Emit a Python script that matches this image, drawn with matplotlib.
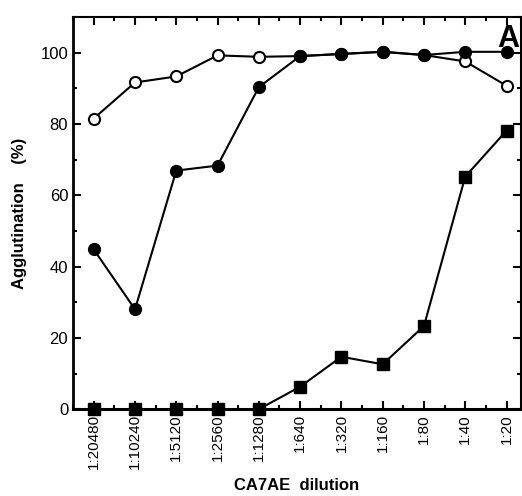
import numpy as np
import matplotlib.pyplot as plt
from matplotlib.ticker import MultipleLocator

plt.rcParams['font.family'] = ['Liberation Sans', 'DejaVu Sans']

dilutions = ['1:20480', '1:10240', '1:5120', '1:2560', '1:1280', '1:640',
             '1:320', '1:160', '1:80', '1:40', '1:20']
open_circ = [81.5, 91.6, 93.3, 99.2, 98.8, 99.0, 99.6, 100.2, 99.3, 97.5, 90.7]
filled_circ = [44.8, 28.0, 66.9, 68.3, 90.3, 99.0, 99.6, 100.2, 99.3, 100.2, 100.2]
squares = [0, 0, 0, 0, 0, 6.3, 14.7, 12.6, 23.3, 65.2, 78.1]

x = np.arange(len(dilutions))

fig = plt.figure(figsize=(5.22, 4.96), dpi=100)
ax = fig.add_axes([0.140, 0.175, 0.858, 0.791])

ax.plot(x, open_circ, 'o-', color='black', mfc='white', mec='black', mew=1.5,
        ms=8, lw=1.5, clip_on=False, zorder=3)
ax.plot(x, filled_circ, 'o-', color='black', ms=8.5, lw=1.5, clip_on=False, zorder=4)
ax.plot(x, squares, 's-', color='black', ms=8, lw=1.5, clip_on=False, zorder=5)

ax.set_xlim(-0.5, 10.35)
ax.set_ylim(0, 110)
ax.set_xticks(x)
ax.set_xticklabels(dilutions, rotation=90, fontsize=11)
ax.xaxis.set_minor_locator(MultipleLocator(0.5))
ax.set_yticks([0, 20, 40, 60, 80, 100])
ax.yaxis.set_minor_locator(MultipleLocator(10))
ax.tick_params(axis='y', labelsize=12)
ax.tick_params(which='both', direction='in', top=True, right=True, width=1.5)
ax.tick_params(which='major', length=6)
ax.tick_params(which='minor', length=3)
for s in ax.spines.values():
    s.set_linewidth(1.5)
ax.spines['bottom'].set_linewidth(2.2)
ax.spines['left'].set_linewidth(2)

ax.set_xlabel('CA7AE  dilution', fontsize=12, fontweight='bold', labelpad=6)
ax.set_ylabel('Agglutination    (%)', fontsize=12, fontweight='bold', labelpad=10)
ax.text(0.997, 0.982, 'A', transform=ax.transAxes, ha='right', va='top',
        fontsize=22, fontweight='bold')

fig.savefig('out.png', dpi=100)
